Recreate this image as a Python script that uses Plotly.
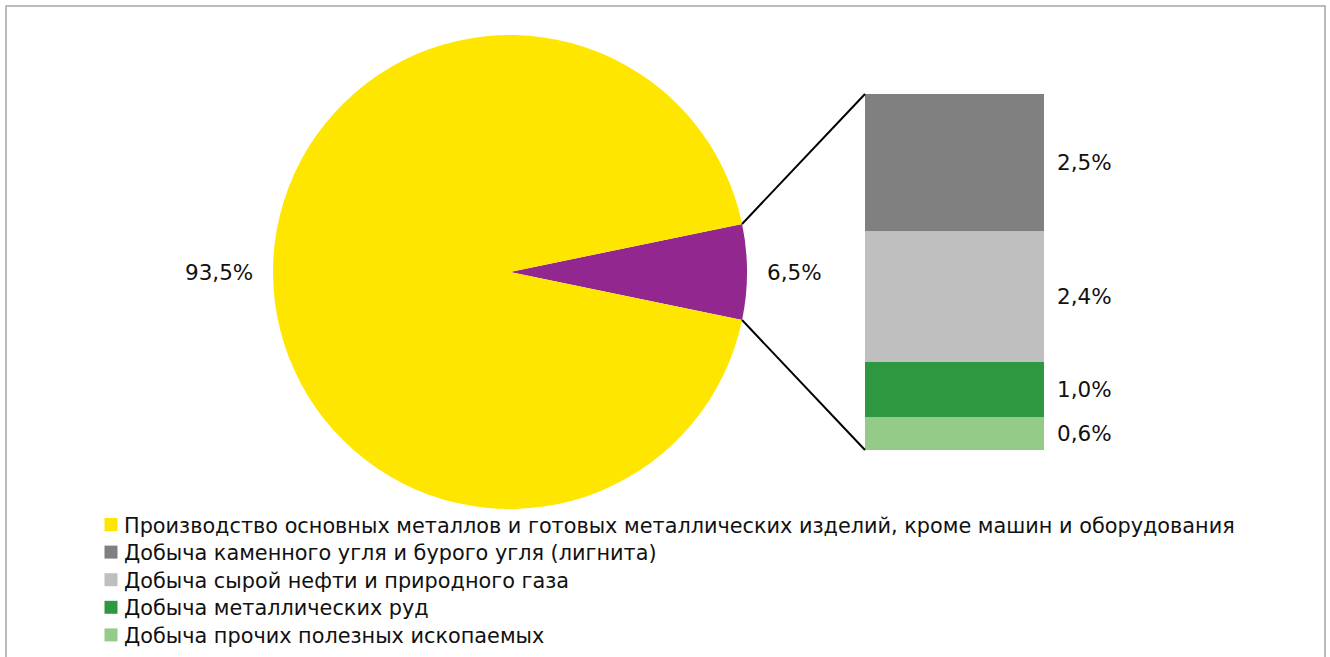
import math
import plotly.graph_objects as go

# ---- data ----
pie_labels = ["Добыча полезных ископаемых",
              "Производство основных металлов и готовых металлических изделий, кроме машин и оборудования"]
pie_values = [6.5, 93.5]
pie_colors = ["#91278F", "#FFE600"]

bar_labels = [
    "Добыча прочих полезных ископаемых",
    "Добыча металлических руд",
    "Добыча сырой нефти и природного газа",
    "Добыча каменного угля и бурого угля (лигнита)",
]
bar_values = [0.6, 1.0, 2.4, 2.5]
bar_colors = ["#95CB89", "#2E9840", "#BFBFBF", "#808080"]

legend_labels = [pie_labels[1]] + bar_labels[::-1]
legend_colors = [pie_colors[1]] + bar_colors[::-1]

W, H = 1330, 657
def px(x):
    return x / W
def py(y):
    return 1 - y / H

# pie geometry (pixels)
cx, cy, R = 510, 272, 237
# bar geometry (pixels)
bx0, bx1, by0, by1 = 865, 1044, 94, 450

fmt = lambda v: f"{v:.1f}".replace(".", ",") + "%"
TXT = "#111111"
FONT = "DejaVu Sans"

total = sum(pie_values)
half_angle = pie_values[0] / total * 360 / 2  # degrees

fig = go.Figure()

fig.add_trace(go.Pie(
    labels=pie_labels, values=pie_values,
    marker=dict(colors=pie_colors, line=dict(width=0)),
    sort=False, direction="clockwise", rotation=90 - half_angle,
    textinfo="none", hoverinfo="label+percent", showlegend=False,
    domain=dict(x=[px(cx - R), px(cx + R)], y=[py(cy + R), py(cy - R)]),
))

for lab, val, col in zip(bar_labels, bar_values, bar_colors):
    fig.add_trace(go.Bar(
        x=["bar"], y=[val], name=lab, marker=dict(color=col, line=dict(width=0)),
        width=1, xaxis="x", yaxis="y", hoverinfo="name+y", showlegend=False,
    ))

annotations = []
shapes = []

# pie labels
start = 90 - half_angle  # clockwise from 12 o'clock
acc = 0
for v in pie_values:
    a = start + (acc + v / 2) / total * 360
    acc += v
    rad = math.radians(a)
    dx, dy = math.sin(rad), -math.cos(rad)
    x = cx + (R + 18) * dx
    y = cy + (R + 18) * dy
    annotations.append(dict(
        x=px(x), y=py(y), xref="paper", yref="paper", text=fmt(v), showarrow=False,
        xanchor="left" if dx > 0 else "right", yanchor="middle",
        font=dict(family=FONT, size=21.5, color=TXT),
    ))

# bar labels
cum = 0
for v in bar_values:
    annotations.append(dict(
        x=1, xref="x domain", xshift=11, y=cum + v / 2, yref="y", text=fmt(v),
        showarrow=False, xanchor="left", yanchor="middle",
        font=dict(family=FONT, size=21.5, color=TXT),
    ))
    cum += v

# connector lines
rad = math.radians(half_angle)
ex = cx + R * math.cos(rad)
shapes.append(dict(type="line", xref="paper", yref="paper",
                   x0=px(ex), y0=py(cy - R * math.sin(rad)), x1=px(bx0), y1=py(by0),
                   line=dict(color="black", width=2)))
shapes.append(dict(type="line", xref="paper", yref="paper",
                   x0=px(ex), y0=py(cy + R * math.sin(rad)), x1=px(bx0), y1=py(by1),
                   line=dict(color="black", width=2)))

# legend (manual)
leg_x, leg_y0, leg_dy, sq = 104.5, 524.5, 27.6, 13
for i, (lab, col) in enumerate(zip(legend_labels, legend_colors)):
    yc = leg_y0 + i * leg_dy
    shapes.append(dict(type="rect", xref="paper", yref="paper",
                       x0=px(leg_x), x1=px(leg_x + sq), y0=py(yc - sq / 2), y1=py(yc + sq / 2),
                       fillcolor=col, line=dict(width=0)))
    annotations.append(dict(
        x=px(122), y=py(yc + 1), xref="paper", yref="paper", text=lab, showarrow=False,
        xanchor="left", yanchor="middle", font=dict(family=FONT, size=20.8, color=TXT),
    ))

# outer border
shapes.append(dict(type="rect", xref="paper", yref="paper",
                   x0=px(6), x1=px(1325), y0=py(6), y1=-0.05,
                   line=dict(color="#A6A6A6", width=1.5)))

fig.update_layout(
    width=W, height=H, autosize=False,
    margin=dict(l=0, r=0, t=0, b=0),
    paper_bgcolor="white", plot_bgcolor="white",
    barmode="stack", bargap=0,
    xaxis=dict(domain=[px(bx0), px(bx1)], visible=False, fixedrange=True),
    yaxis=dict(domain=[py(by1), py(by0)], range=[0, sum(bar_values)], visible=False, fixedrange=True),
    showlegend=False,
    annotations=annotations, shapes=shapes,
)

fig.write_html("out.html", config={"displayModeBar": False},
               post_script="document.body.style.margin='0';document.body.style.overflow='hidden';")
